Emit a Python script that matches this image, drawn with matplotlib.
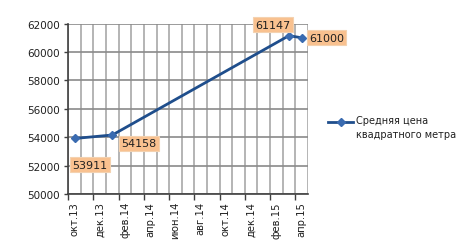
import numpy as np
import matplotlib.pyplot as plt
from matplotlib.lines import Line2D
from matplotlib.ticker import FixedLocator

plt.rcParams["font.family"] = ["DejaVu Sans"]

# ── data ──────────────────────────────────────────────────────────────────────
months = ["окт.13", "ноя.13", "дек.13", "янв.14", "фев.14", "мар.14", "апр.14",
          "май.14", "июн.14", "июл.14", "авг.14", "сен.14", "окт.14", "ноя.14",
          "дек.14", "янв.15", "фев.15", "мар.15", "апр.15"]
price = [53911, None, None, 54158, None, None, None, None, None, None, None,
         None, None, None, None, None, None, 61147, 61000]
series_name = "Средняя цена\nквадратного метра"

# data label offsets (points): below-right, right, above-left, right
label_offsets = {0: (11, -19), 3: (19, -6), 17: (-11.5, 8), 18: (18, 0)}

LINE = "#1F4E8C"
MARK = "#3A6BB0"
BOX = "#F9C18F"

fig = plt.figure(figsize=(4.67, 2.53), dpi=100)
ax = fig.add_axes([0.1462, 0.229, 0.513, 0.674])

idx = [i for i, v in enumerate(price) if v is not None]
vals = [price[i] for i in idx]
ax.plot(idx, vals, color=LINE, lw=2.0, marker="D", ms=4.5,
        mfc=MARK, mec=MARK, zorder=5)

for i, v in zip(idx, vals):
    ax.annotate(f"{v}", xy=(i, v), xytext=label_offsets[i],
                textcoords="offset points", ha="center", va="center",
                fontsize=8, color="#202020", zorder=6,
                bbox=dict(boxstyle="square,pad=0.22", fc=BOX, ec="#F4D2B0", lw=0.8))

ax.set_xlim(-0.5, len(months) - 0.5)
ax.set_ylim(50000, 62000)
ax.set_yticks(np.arange(50000, 62001, 2000))

# labels at every second month, gridlines on every category boundary
ax.xaxis.set_major_locator(FixedLocator(list(range(0, len(months), 2))))
ax.set_xticklabels(months[::2], rotation=90, fontsize=7.2, color="#202020")
ax.xaxis.set_minor_locator(FixedLocator(list(np.arange(-0.5, len(months), 1.0))))
ax.tick_params(axis="x", which="both", length=0, pad=5)
ax.grid(True, axis="x", which="minor", color="#A8A8A8", lw=1.2)
ax.grid(True, axis="y", which="major", color="#8A8A8A", lw=1.2)
ax.set_axisbelow(True)

sec = ax.secondary_xaxis("bottom")
sec.set_xticks(list(np.arange(-0.5, len(months) - 1, 2.0)))
sec.set_xticklabels([])
sec.tick_params(length=4, width=1, color="#404040")
sec.spines["bottom"].set_visible(False)

ax.tick_params(axis="y", length=3, width=1, color="#404040", labelsize=7.5,
               labelcolor="#202020", pad=3)

for s in ["top", "right"]:
    ax.spines[s].set_visible(False)
for s in ["left", "bottom"]:
    ax.spines[s].set_color("#404040")
    ax.spines[s].set_linewidth(1.2)

# legend key, aligned with the first line of the label as in the source
W, H = 467, 253
ky = 1 - 123 / H
fig.add_artist(Line2D([328 / W, 353 / W], [ky, ky], color=LINE, lw=2.0,
                      transform=fig.transFigure))
fig.add_artist(Line2D([340.5 / W], [ky], color=LINE, marker="D", ms=4.5,
                      mfc=MARK, mec=MARK, transform=fig.transFigure))
fig.text(356 / W, 1 - 116.5 / H, series_name, fontsize=7, color="#202020",
         ha="left", va="top", linespacing=1.45, transform=fig.transFigure)

fig.savefig("out.png", dpi=100)
